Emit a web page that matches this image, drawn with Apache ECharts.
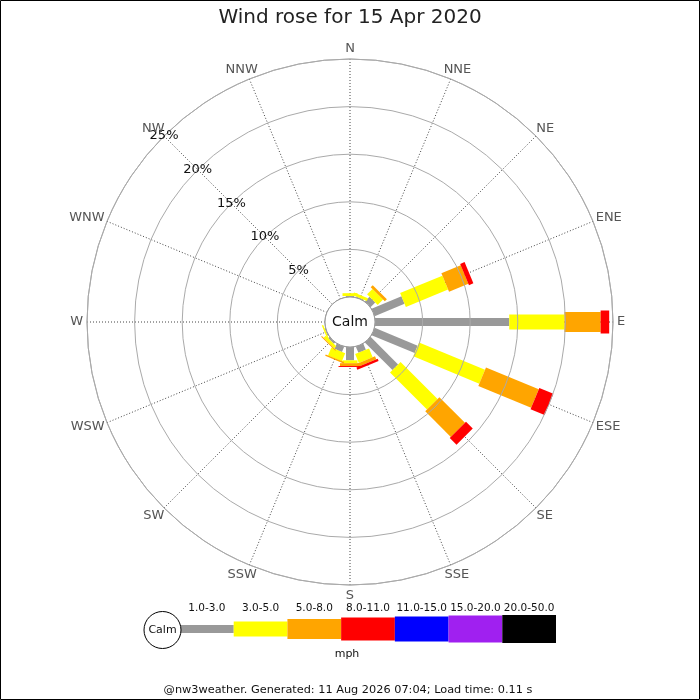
<!DOCTYPE html>
<html>
<head>
<meta charset="utf-8">
<title>Wind rose</title>
<script src="https://cdn.jsdelivr.net/npm/echarts@6/dist/echarts.min.js"></script>
<style>
  html, body { margin: 0; padding: 0; background: #fff; }
  #chart { width: 700px; height: 700px; }
</style>
</head>
<body>
<div id="chart"></div>
<script>
// compass points, clockwise from north
const directions = ['N', 'NNE', 'NE', 'ENE', 'E', 'ESE', 'SE', 'SSE',
  'S', 'SSW', 'SW', 'WSW', 'W', 'WNW', 'NW', 'NNW']
const speedBins = ['1.0-3.0', '3.0-5.0', '5.0-8.0', '8.0-11.0', '11.0-15.0', '15.0-20.0', '20.0-50.0']
const ringTicks = [5, 10, 15, 20, 25]

// % of time per direction for each speed bin (mph)
const speed1to3 = [0.1, 0.1, 0.7, 3.4, 14.1, 4.9, 4.1, 0.7, 1.4, 0.6, 0.2, 0.1, 0, 0, 0, 0]
const speed3to5 = [0.3, 0.3, 0.8, 4.8, 5.8, 7.5, 5.5, 1.0, 0.3, 0.9, 0.3, 0.15, 0, 0, 0, 0]
const speed5to8 = [0, 0, 0.3, 2.2, 3.8, 6.0, 3.8, 0.35, 0.3, 0.15, 0.1, 0, 0, 0, 0, 0]
const speed8to11 = [0, 0, 0, 0.5, 0.9, 1.6, 1.0, 0.25, 0.1, 0, 0, 0, 0, 0, 0, 0]
const speed11to15 = [0, 0, 0, 0, 0, 0, 0, 0, 0, 0, 0, 0, 0, 0, 0, 0]
const speed15to20 = [0, 0, 0, 0, 0, 0, 0, 0, 0, 0, 0, 0, 0, 0, 0, 0]
const speed20to50 = [0, 0, 0, 0, 0, 0, 0, 0, 0, 0, 0, 0, 0, 0, 0, 0]

const binColors = ['#999999', '#ffff00', '#ffa500', '#ff0000', '#0000ff', '#a020f0', '#000000']
const binWidths = [8, 15, 20, 23, 25, 27, 28]

const cx = 350
const cy = 322
const calmR = 25
const outerR = 263

// radius axis sits on the NW spoke, so north is 45 deg further round
function dirAngle(i) {
  return (i * 22.5 + 45) % 360
}

// unit vector (screen coords) pointing outward along a direction
function outward(api, ang) {
  let c = api.coord([0, ang])
  let f = api.coord([25, ang])
  let len = Math.hypot(f[0] - c[0], f[1] - c[1])
  return [(f[0] - c[0]) / len, (f[1] - c[1]) / len]
}

const measureCtx = document.createElement('canvas').getContext('2d')
measureCtx.font = '13px "DejaVu Sans"'

// stack the bins outward from the calm circle
const allBins = [speed1to3, speed3to5, speed5to8, speed8to11, speed11to15, speed15to20, speed20to50]
const cumulative = directions.map(() => 0)
const roseSeries = allBins.map((bin, b) => {
  let data = []
  for (let i = 0; i < directions.length; i++) {
    let start = cumulative[i]
    let end = start + bin[i]
    cumulative[i] = end
    if (bin[i] > 0) {
      data.push([start, end, dirAngle(i)])
    }
  }
  return {
    type: 'custom',
    name: speedBins[b],
    coordinateSystem: 'polar',
    z: 3 + b,
    encode: { radius: [0, 1], angle: 2 },
    data: data,
    renderItem: function (params, api) {
      let ang = api.value(2)
      let p0 = api.coord([api.value(0), ang])
      let p1 = api.coord([api.value(1), ang])
      let u = outward(api, ang)
      let hw = binWidths[b] / 2
      let nx = -u[1] * hw
      let ny = u[0] * hw
      return {
        type: 'polygon',
        shape: {
          points: [
            [p0[0] + nx, p0[1] + ny],
            [p1[0] + nx, p1[1] + ny],
            [p1[0] - nx, p1[1] - ny],
            [p0[0] - nx, p0[1] - ny]
          ]
        },
        style: { fill: binColors[b] }
      }
    }
  }
})

// compass labels just outside the outer ring
const compassSeries = {
  type: 'custom',
  coordinateSystem: 'polar',
  z: 20,
  encode: { radius: 0, angle: 1 },
  data: directions.map((d, i) => [25, dirAngle(i), i]),
  renderItem: function (params, api) {
    let ang = api.value(1)
    let name = directions[api.value(2)]
    let p = api.coord([api.value(0), ang])
    let u = outward(api, ang)
    let w = measureCtx.measureText(name).width
    let x = p[0] + u[0] * 4 + u[0] * w / 2
    let y = p[1] + u[1] * 4 + u[1] * 6.5
    return {
      type: 'text',
      x: x,
      y: y,
      style: {
        text: name,
        fontSize: 13,
        fontFamily: 'DejaVu Sans',
        fill: '#555555',
        align: 'center',
        verticalAlign: 'middle'
      }
    }
  }
}

const legendSeries = {
  type: 'custom',
  coordinateSystem: 'cartesian2d',
  xAxisIndex: 0,
  yAxisIndex: 0,
  data: speedBins.map((s, i) => [i, 0]),
  renderItem: function (params, api) {
    let idx = api.value(0)
    let c = api.coord([idx, 0])
    let bw = api.size([1, 0])[0]
    let h = binWidths[idx]
    return {
      type: 'rect',
      shape: { x: c[0] - bw / 2, y: c[1] - h / 2, width: bw, height: h },
      style: { fill: binColors[idx] }
    }
  }
}

const chart = echarts.init(document.getElementById('chart'), null, { renderer: 'canvas' })
chart.setOption({
  animation: false,
  backgroundColor: '#ffffff',
  textStyle: { fontFamily: 'DejaVu Sans' },
  title: {
    text: 'Wind rose for 15 Apr 2020',
    left: 'center',
    top: 3,
    textStyle: { fontFamily: 'DejaVu Sans', fontSize: 20, fontWeight: 'normal', color: '#222' }
  },
  polar: {
    center: [cx, cy],
    radius: [calmR, outerR]
  },
  angleAxis: {
    type: 'value',
    min: 0,
    max: 360,
    interval: 22.5,
    startAngle: 135,
    clockwise: true,
    axisLine: { show: true, lineStyle: { color: '#aaaaaa', width: 1 } },
    axisTick: { show: false },
    axisLabel: { show: false },
    splitLine: { show: true, lineStyle: { color: '#444444', width: 1, type: [1, 2] } }
  },
  radiusAxis: {
    type: 'value',
    min: 0,
    max: 25,
    interval: 5,
    axisLine: { show: false },
    axisTick: { show: false },
    axisLabel: {
      margin: 0,
      align: 'center',
      verticalAlign: 'middle',
      fontSize: 13,
      color: '#111',
      formatter: function (v) {
        return ringTicks.indexOf(v) >= 0 ? v + '%' : ''
      }
    },
    splitLine: { show: true, lineStyle: { color: '#aaaaaa', width: 1 } },
    z: 10
  },
  grid: {
    left: 180,
    top: 615,
    width: 376,
    height: 28
  },
  xAxis: {
    type: 'category',
    position: 'top',
    data: speedBins,
    axisLine: { show: false },
    axisTick: { show: false },
    splitLine: { show: false },
    axisLabel: { margin: 1, fontSize: 10.5, color: '#111', interval: 0 }
  },
  yAxis: {
    type: 'value',
    min: -14,
    max: 14,
    show: false
  },
  series: roseSeries.concat([compassSeries, legendSeries]),
  graphic: [
    {
      type: 'rect',
      z: 100,
      shape: { x: 0.5, y: 0.5, width: 699, height: 699 },
      style: { fill: null, stroke: '#000', lineWidth: 1 }
    },
    {
      type: 'circle',
      z: 50,
      shape: { cx: cx, cy: cy, r: calmR },
      style: { fill: '#fff', stroke: '#999', lineWidth: 1 }
    },
    {
      type: 'text',
      z: 51,
      x: cx,
      y: cy,
      style: { text: 'Calm', fontSize: 14, fontFamily: 'DejaVu Sans', fill: '#111', align: 'center', verticalAlign: 'middle' }
    },
    {
      type: 'circle',
      z: 50,
      shape: { cx: 162.5, cy: 630, r: 18.5 },
      style: { fill: '#fff', stroke: '#000', lineWidth: 1 }
    },
    {
      type: 'text',
      z: 51,
      x: 162.5,
      y: 630,
      style: { text: 'Calm', fontSize: 11, fontFamily: 'DejaVu Sans', fill: '#111', align: 'center', verticalAlign: 'middle' }
    },
    {
      type: 'text',
      z: 51,
      x: 347,
      y: 654,
      style: { text: 'mph', fontSize: 11, fontFamily: 'DejaVu Sans', fill: '#111', align: 'center', verticalAlign: 'middle' }
    },
    {
      type: 'text',
      z: 51,
      x: 348,
      y: 690,
      style: { text: '@nw3weather. Generated: 11 Aug 2026 07:04; Load time: 0.11 s', fontSize: 11.3, fontFamily: 'DejaVu Sans', fill: '#111', align: 'center', verticalAlign: 'middle' }
    }
  ]
})
</script>
</body>
</html>
